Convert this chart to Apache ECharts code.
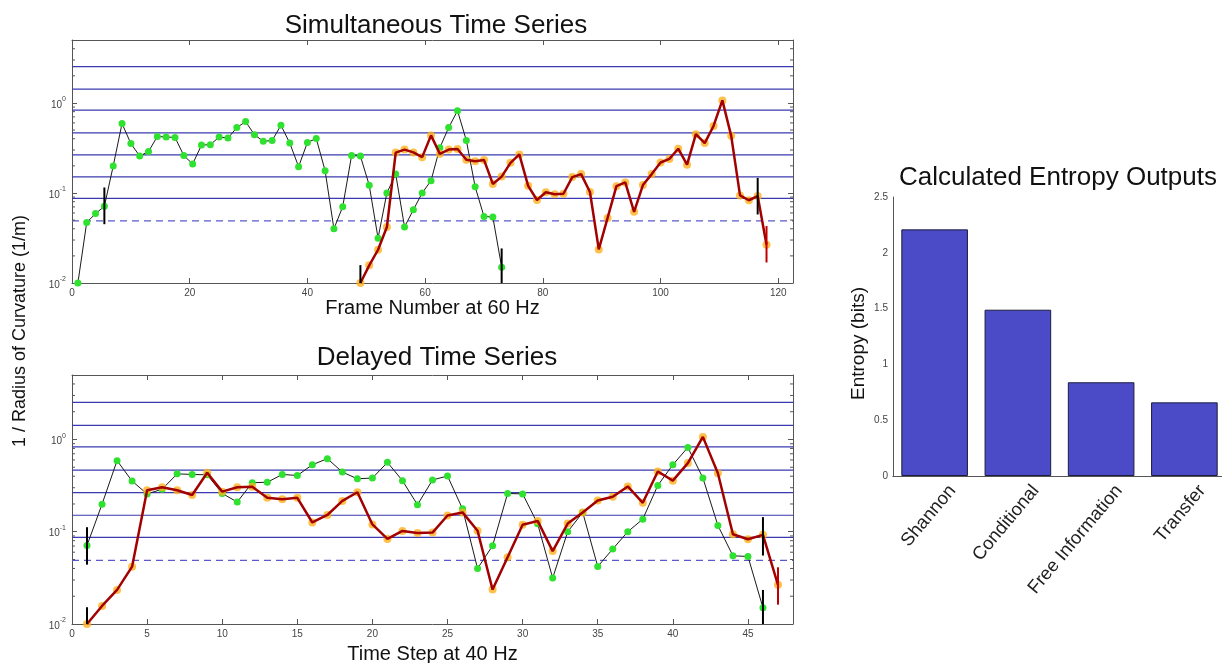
<!DOCTYPE html>
<html><head><meta charset="utf-8">
<script src="https://cdn.jsdelivr.net/npm/echarts@6/dist/echarts.min.js"></script>
<style>html,body{margin:0;padding:0;background:#fff}#c{width:1222px;height:663px}</style>
</head><body><div id="c"></div>
<script>
// ---- data ----
const greenFrames = [1,2.5,4,5.5,7,8.5,10,11.5,13,14.5,16,17.5,19,20.5,22,23.5,25,26.5,28,29.5,31,32.5,34,35.5,37,38.5,40,41.5,43,44.5,46,47.5,49,50.5,52,53.5,55,56.5,58,59.5,61,62.5,64,65.5,67,68.5,70,71.5,73];
const greenValues = [0.01,0.047,0.059,0.071,0.199,0.59,0.354,0.257,0.289,0.424,0.418,0.414,0.26,0.21,0.34,0.344,0.418,0.407,0.532,0.62,0.443,0.375,0.382,0.565,0.358,0.196,0.364,0.402,0.177,0.040,0.0705,0.26,0.257,0.122,0.0315,0.100,0.162,0.042,0.065,0.100,0.137,0.318,0.532,0.82,0.383,0.117,0.0548,0.054,0.015];
const orangeFrames = [49,50.5,52,53.5,55,56.5,58,59.5,61,62.5,64,65.5,67,68.5,70,71.5,73,74.5,76,77.5,79,80.5,82,83.5,85,86.5,88,89.5,91,92.5,94,95.5,97,98.5,100,101.5,103,104.5,106,107.5,109,110.5,112,113.5,115,116.5,118];
const orangeValues = [0.01,0.0157,0.0234,0.0418,0.281,0.303,0.282,0.25,0.436,0.272,0.303,0.308,0.234,0.225,0.233,0.126,0.152,0.216,0.268,0.12,0.0835,0.102,0.097,0.098,0.150,0.162,0.1025,0.0236,0.0528,0.119,0.131,0.0617,0.1225,0.162,0.218,0.239,0.31,0.206,0.45,0.358,0.555,1.067,0.431,0.094,0.083,0.0925,0.0266];
// delayed series: time steps at 40 Hz
const delayedGreenSteps = [1,2,3,4,5,6,7,8,9,10,11,12,13,14,15,16,17,18,19,20,21,22,23,24,25,26,27,28,29,30,31,32,33,34,35,36,37,38,39,40,41,42,43,44,45,46];
const delayedGreenValues = greenValues.slice(3);
const delayedOrangeSteps = [1,2,3,4,5,6,7,8,9,10,11,12,13,14,15,16,17,18,19,20,21,22,23,24,25,26,27,28,29,30,31,32,33,34,35,36,37,38,39,40,41,42,43,44,45,46,47];
const delayedOrangeValues = orangeValues;
// window marks [x, low, high]
const topBlackMarks = [[5.5,0.045,0.115],[49,0.01,0.0158],[73,0.01,0.0242],[116.5,0.0577,0.147]];
const topRedMarks = [[118,0.0169,0.0429]];
const bottomBlackMarks = [[1,0.044,0.112],[1,0.01,0.0152],[46,0.0552,0.144],[46,0.01,0.0234]];
const bottomRedMarks = [[47,0.0162,0.0412]];
// reference levels
const binLevels = [0.087,0.151,0.265,0.465,0.83,1.42,2.53];
const dashedLevel = [0.049];
const minorTickValues = [0.02,0.03,0.04,0.05,0.06,0.07,0.08,0.09,0.2,0.3,0.4,0.5,0.6,0.7,0.8,0.9,2,3,4];
// bar chart
const entropyCategories = ['Shannon','Conditional','Free Information','Transfer'];
const entropyValues = [2.21,1.49,0.84,0.66];

// ---- chart ----
const FONT = '"Liberation Sans", Arial, sans-serif';
const AX = '#555';
const pairs = (xs, ys) => xs.map((x, i) => [x, ys[i]]);

function logLabel(v) {
  const l = Math.log10(v), e = Math.round(l);
  if (Math.abs(l - e) > 1e-6) return '';
  return '{b|10}{s|' + e + '}';
}
const logRich = {
  b: {fontSize: 10, color: '#444', fontFamily: FONT, verticalAlign: 'bottom', lineHeight: 14},
  s: {fontSize: 7, color: '#444', fontFamily: FONT, verticalAlign: 'top', lineHeight: 14}
};

function hLineSeries(grid, levels, dashed) {
  return {
    type: 'custom', xAxisIndex: grid * 2, yAxisIndex: grid * 2, z: 1, silent: true,
    data: levels.map(v => [0, v]),
    encode: {x: 0, y: 1},
    renderItem: (params, api) => {
      const cs = params.coordSys;
      const p = api.coord([0, api.value(1)]);
      return {type: 'line', shape: {x1: cs.x, y1: p[1], x2: cs.x + cs.width, y2: p[1]},
        style: {stroke: dashed ? '#5a5acc' : '#3a3ab0', lineWidth: 1.2, lineDash: dashed ? [7, 5] : null}};
    }
  };
}
function minorTickSeries(grid) {
  return {
    type: 'custom', xAxisIndex: grid * 2, yAxisIndex: grid * 2, z: 6, silent: true,
    data: minorTickValues.map(v => [0, v]),
    encode: {x: 0, y: 1},
    renderItem: (params, api) => {
      const cs = params.coordSys;
      const p = api.coord([0, api.value(1)]);
      return {type: 'group', children: [
        {type: 'line', shape: {x1: cs.x, y1: p[1], x2: cs.x + 3, y2: p[1]}, style: {stroke: AX, lineWidth: 1}},
        {type: 'line', shape: {x1: cs.x + cs.width - 3, y1: p[1], x2: cs.x + cs.width, y2: p[1]}, style: {stroke: AX, lineWidth: 1}}
      ]};
    }
  };
}
function markSeries(grid, marks, color) {
  return {
    type: 'custom', xAxisIndex: grid * 2, yAxisIndex: grid * 2, z: 8, silent: true,
    data: marks,
    encode: {x: 0, y: [1, 2]},
    renderItem: (params, api) => {
      const p1 = api.coord([api.value(0), api.value(1)]);
      const p2 = api.coord([api.value(0), api.value(2)]);
      return {type: 'line', shape: {x1: p1[0], y1: p1[1], x2: p2[0], y2: p2[1]},
        style: {stroke: color, lineWidth: 2}};
    }
  };
}
function greenSeries(grid, data) {
  return {
    type: 'line', xAxisIndex: grid * 2, yAxisIndex: grid * 2, z: 3, data: data,
    symbol: 'circle', symbolSize: 7, showSymbol: true, animation: false,
    lineStyle: {color: '#1a1a1a', width: 1},
    itemStyle: {color: '#2fe22f', borderWidth: 0}
  };
}
function orangeSeries(grid, data) {
  return [
    {type: 'scatter', xAxisIndex: grid * 2, yAxisIndex: grid * 2, z: 4, data: data,
      symbol: 'circle', symbolSize: 8, itemStyle: {color: '#ffb21e'}, animation: false},
    {type: 'line', xAxisIndex: grid * 2, yAxisIndex: grid * 2, z: 5, data: data,
      showSymbol: false, lineStyle: {color: '#a30000', width: 2.5}, animation: false}
  ];
}
function xAxes(grid, max, interval, name, gap) {
  return [
    {type: 'value', gridIndex: grid, min: 0, max: max, interval: interval, position: 'bottom',
      name: name, nameLocation: 'middle', nameGap: gap,
      nameTextStyle: {fontSize: 20, color: '#111', fontFamily: FONT},
      axisLine: {onZero: false, lineStyle: {color: AX}},
      axisTick: {inside: true, length: 5, lineStyle: {color: AX}},
      axisLabel: {fontSize: 10, color: '#444', fontFamily: FONT, margin: 5, showMaxLabel: false},
      splitLine: {show: false}},
    {type: 'value', gridIndex: grid, min: 0, max: max, interval: interval, position: 'top',
      axisLine: {onZero: false, lineStyle: {color: AX}},
      axisTick: {inside: true, length: 5, lineStyle: {color: AX}},
      axisLabel: {show: false}, splitLine: {show: false}}
  ];
}
function yAxes(grid) {
  return [
    {type: 'log', logBase: 10, gridIndex: grid, min: 0.01, max: 5, position: 'left',
      axisLine: {onZero: false, lineStyle: {color: AX}},
      axisTick: {inside: true, length: 5, lineStyle: {color: AX}},
      axisLabel: {formatter: logLabel, rich: logRich, margin: 6, showMaxLabel: false},
      splitLine: {show: false}, minorTick: {show: false}},
    {type: 'log', logBase: 10, gridIndex: grid, min: 0.01, max: 5, position: 'right',
      axisLine: {onZero: false, lineStyle: {color: AX}},
      axisTick: {inside: true, length: 5, lineStyle: {color: AX}},
      axisLabel: {show: false}, splitLine: {show: false}}
  ];
}

const option = {
  animation: false,
  backgroundColor: '#fff',
  title: [
    {text: 'Simultaneous Time Series', left: 431, top: 8, textAlign: 'center',
      textStyle: {fontSize: 26, fontWeight: 'normal', color: '#111', fontFamily: FONT}},
    {text: 'Delayed Time Series', left: 432, top: 340, textAlign: 'center',
      textStyle: {fontSize: 26, fontWeight: 'normal', color: '#111', fontFamily: FONT}},
    {text: 'Calculated Entropy Outputs', left: 1053, top: 160, textAlign: 'center',
      textStyle: {fontSize: 26, fontWeight: 'normal', color: '#111', fontFamily: FONT}}
  ],
  graphic: [
    {type: 'text', left: 11, top: 215, rotation: Math.PI / 2,
      style: {text: '1 / Radius of Curvature (1/m)', fontSize: 18, fill: '#111', fontFamily: FONT}},
    {type: 'text', left: 849, top: 287, rotation: Math.PI / 2,
      style: {text: 'Entropy (bits)', fontSize: 19, fill: '#111', fontFamily: FONT}}
  ],
  grid: [
    {left: 72, top: 40, width: 721, height: 243, outerBoundsMode: 'none', containLabel: false},
    {left: 72, top: 375, width: 721, height: 249, outerBoundsMode: 'none', containLabel: false},
    {left: 893, top: 197, width: 333, height: 279, outerBoundsMode: 'none', containLabel: false}
  ],
  xAxis: [
    ...xAxes(0, 122.5, 20, 'Frame Number at 60 Hz', 15),
    ...xAxes(1, 48, 5, 'Time Step at 40 Hz', 20),
    {type: 'category', gridIndex: 2, data: entropyCategories, position: 'bottom',
      axisLine: {lineStyle: {color: AX}}, axisTick: {show: false},
      axisLabel: {rotate: 50, fontSize: 18.5, color: '#222', fontFamily: FONT, interval: 0,
        align: 'right', verticalAlign: 'top', margin: -10, padding: [18, 5, 0, 0], lineHeight: 19}},
    {type: 'category', gridIndex: 2, data: entropyCategories, position: 'top',
      axisLine: {lineStyle: {color: AX}},
      axisTick: {inside: true, length: 3, alignWithLabel: true, lineStyle: {color: '#999'}},
      axisLabel: {show: false}}
  ],
  yAxis: [
    ...yAxes(0),
    ...yAxes(1),
    {type: 'value', gridIndex: 2, min: 0, max: 2.5, interval: 0.5, position: 'left',
      axisLine: {show: true, lineStyle: {color: AX}},
      axisTick: {show: false},
      axisLabel: {fontSize: 10, color: '#444', fontFamily: FONT, margin: 5},
      splitLine: {show: false}},
    {type: 'value', gridIndex: 2, min: 0, max: 2.5, interval: 0.5, position: 'right',
      axisLine: {show: true, lineStyle: {color: AX}},
      axisTick: {show: true, inside: true, length: 3}, axisLabel: {show: false}, splitLine: {show: false}}
  ],
  series: [
    hLineSeries(0, binLevels, false), hLineSeries(0, dashedLevel, true), minorTickSeries(0),
    greenSeries(0, pairs(greenFrames, greenValues)),
    ...orangeSeries(0, pairs(orangeFrames, orangeValues)),
    markSeries(0, topBlackMarks, '#000'), markSeries(0, topRedMarks, '#c00000'),

    hLineSeries(1, binLevels, false), hLineSeries(1, dashedLevel, true), minorTickSeries(1),
    greenSeries(1, pairs(delayedGreenSteps, delayedGreenValues)),
    ...orangeSeries(1, pairs(delayedOrangeSteps, delayedOrangeValues)),
    markSeries(1, bottomBlackMarks, '#000'), markSeries(1, bottomRedMarks, '#c00000'),

    {type: 'bar', xAxisIndex: 4, yAxisIndex: 4, data: entropyValues, barWidth: '80%',
      itemStyle: {color: '#4b4bc8', borderColor: '#1c1c3c', borderWidth: 1}}
  ]
};
const chart = echarts.init(document.getElementById('c'));
chart.setOption(option);
</script>
</body></html>
